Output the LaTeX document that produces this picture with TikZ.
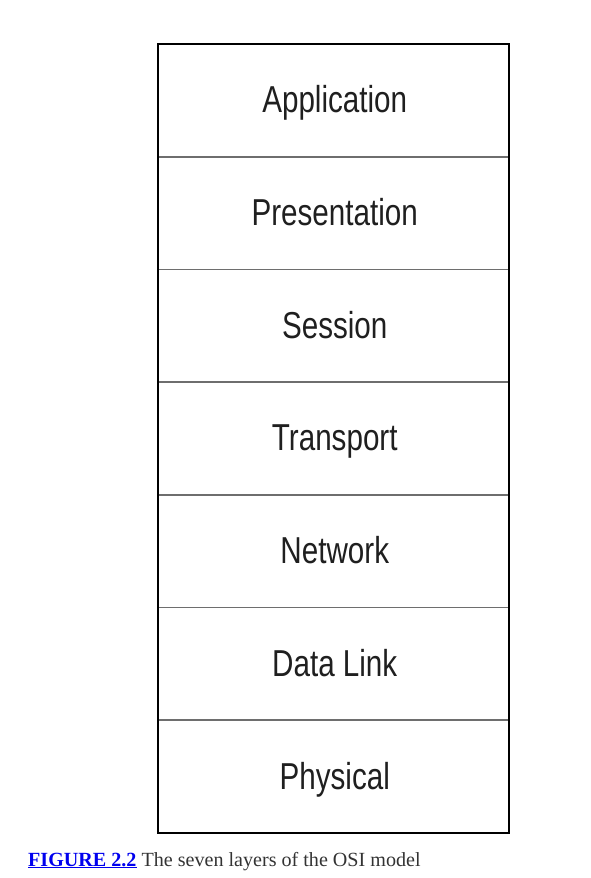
\documentclass[tikz,border=0pt]{standalone}
\usepackage{fontspec}
\setmainfont{Liberation Serif}
\newfontfamily\condfont[FakeStretch=0.79]{Liberation Sans}
\definecolor{divgray}{HTML}{6E6E6E}
\definecolor{linkblue}{HTML}{0000EE}
\definecolor{captext}{HTML}{333333}
\begin{document}
\begin{tikzpicture}[x=1pt,y=-1pt,
  layer/.style={draw=divgray,line width=1.6pt,outer sep=0pt,minimum width=351pt,minimum height=112.7pt,inner sep=0pt,
    font=\condfont\fontsize{37.5}{40}\selectfont,text=black!88,text height=25pt,text depth=0pt,anchor=north west,
    execute at begin node=\hspace*{2.5pt}}]
\useasboundingbox (0,0) rectangle (591,878);
\node[layer] (app)  at (158,44) {Application};
\node[layer] (pres) at (app.south west) {Presentation};
\node[layer] (sess) at (pres.south west) {Session};
\node[layer] (trans) at (sess.south west) {Transport};
\node[layer] (net) at (trans.south west) {Network};
\node[layer] (dl) at (net.south west) {Data Link};
\node[layer] (phy) at (dl.south west) {Physical};
\draw[line width=2pt,black] (app.north west) rectangle (phy.south east);
\node[anchor=base west,inner sep=0pt,font=\fontsize{20.1}{24}\selectfont,text=captext] (cap) at (28,866)
  {\textcolor{linkblue}{\underline{\textbf{FIGURE 2.2}}} The seven layers of the OSI model};
\end{tikzpicture}
\end{document}
